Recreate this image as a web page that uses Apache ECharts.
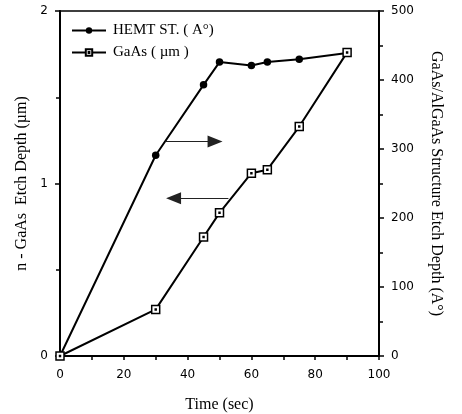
<!DOCTYPE html>
<html>
<head>
<meta charset="utf-8">
<script src="https://cdn.jsdelivr.net/npm/echarts@6/dist/echarts.min.js"></script>
<style>html,body{margin:0;padding:0;background:#fff}#c{width:462px;height:414px}</style>
</head>
<body>
<div id="c"></div>
<script>
var timeSec = [0, 30, 45, 50, 60, 65, 75, 90];
var hemtDepth = [0, 291, 393, 426, 421, 426, 430, 439];
var gaasDepth = [0, 0.27, 0.69, 0.83, 1.06, 1.08, 1.33, 1.76];
var hemtName = 'HEMT ST. ( A\u00b0)';
var gaasName = 'GaAs ( \u00b5m )';
var arrowRight = [[33, 311], [48.6, 311]];
var arrowLeft = [[52.8, 0.914], [35.6, 0.914]];

var chart = echarts.init(document.getElementById('c'), null, {renderer: 'canvas'});
var serif = 'Liberation Serif';
var sans = 'DejaVu Sans';
var squareSym = 'path://M0,0 H10 V10 H0 Z M4.4,4.4 H5.6 V5.6 H4.4 Z';

function pairs(xs, ys) { return xs.map(function (x, i) { return [x, ys[i]]; }); }

chart.setOption({
  animation: false,
  grid: {left: 60, right: 83, top: 11, bottom: 58, show: true, borderColor: '#000', borderWidth: 1.5, backgroundColor: 'transparent', containLabel: false, outerBoundsMode: 'none'},
  legend: {
    left: 66, top: 18, orient: 'vertical', itemWidth: 34, itemHeight: 8, itemGap: 7,
    textStyle: {fontFamily: serif, fontSize: 15, color: '#000', padding: [0, 0, 0, 2]},
    data: [{name: hemtName}, {name: gaasName}]
  },
  xAxis: {
    type: 'value', min: 0, max: 100, interval: 20,
    name: 'Time (sec)', nameLocation: 'middle', nameGap: 41,
    nameTextStyle: {fontFamily: serif, fontSize: 16, color: '#000'},
    axisLine: {lineStyle: {color: '#000', width: 2}},
    axisTick: {show: true, inside: false, length: 4, lineStyle: {color: '#000', width: 1.5}},
    minorTick: {show: true, splitNumber: 2, length: 4, lineStyle: {color: '#000', width: 1.5}},
    axisLabel: {fontFamily: sans, fontSize: 12, color: '#000', margin: 13},
    splitLine: {show: false}
  },
  yAxis: [{
    type: 'value', min: 0, max: 2, interval: 1, position: 'left',
    name: 'n - GaAs  Etch Depth (\u00b5m)', nameLocation: 'middle', nameGap: 24,
    nameTextStyle: {fontFamily: serif, fontSize: 16, color: '#000'},
    axisLine: {show: true, lineStyle: {color: '#000', width: 2}},
    axisTick: {show: true, length: 5, lineStyle: {color: '#000', width: 1.5}},
    minorTick: {show: true, splitNumber: 2, length: 4, lineStyle: {color: '#000', width: 1.5}},
    axisLabel: {fontFamily: sans, fontSize: 12, color: '#000', margin: 12},
    splitLine: {show: false}
  }, {
    type: 'value', min: 0, max: 500, interval: 100, position: 'right',
    name: 'GaAs/AlGaAs Structure Etch Depth (A\u00b0)', nameLocation: 'middle', nameGap: 49, nameRotate: -90,
    nameTextStyle: {fontFamily: serif, fontSize: 16, color: '#000'},
    axisLine: {show: true, lineStyle: {color: '#000', width: 2}},
    axisTick: {show: true, length: 5, lineStyle: {color: '#000', width: 1.5}},
    minorTick: {show: true, splitNumber: 2, length: 4, lineStyle: {color: '#000', width: 1.5}},
    axisLabel: {fontFamily: sans, fontSize: 12, color: '#000', margin: 12},
    splitLine: {show: false}
  }],
  series: [{
    name: hemtName, type: 'line', yAxisIndex: 1, data: pairs(timeSec, hemtDepth),
    symbol: 'circle', symbolSize: 7.5, showAllSymbol: true,
    lineStyle: {color: '#000', width: 2}, itemStyle: {color: '#000'},
    markLine: {
      silent: true, symbol: ['none', 'triangle'], symbolSize: [12, 15],
      label: {show: false}, lineStyle: {color: '#222', width: 1, type: 'solid'},
      data: [[{coord: arrowRight[0]}, {coord: arrowRight[1]}]]
    }
  }, {
    name: gaasName, type: 'line', yAxisIndex: 0, data: pairs(timeSec, gaasDepth),
    symbol: squareSym, symbolSize: 8, showAllSymbol: true, z: 3,
    lineStyle: {color: '#000', width: 2}, itemStyle: {color: '#fff', borderColor: '#000', borderWidth: 1.5},
    markLine: {
      silent: true, symbol: ['none', 'triangle'], symbolSize: [12, 15],
      label: {show: false}, lineStyle: {color: '#222', width: 1, type: 'solid'},
      data: [[{coord: arrowLeft[0]}, {coord: arrowLeft[1]}]]
    }
  }]
});
</script>
</body>
</html>
